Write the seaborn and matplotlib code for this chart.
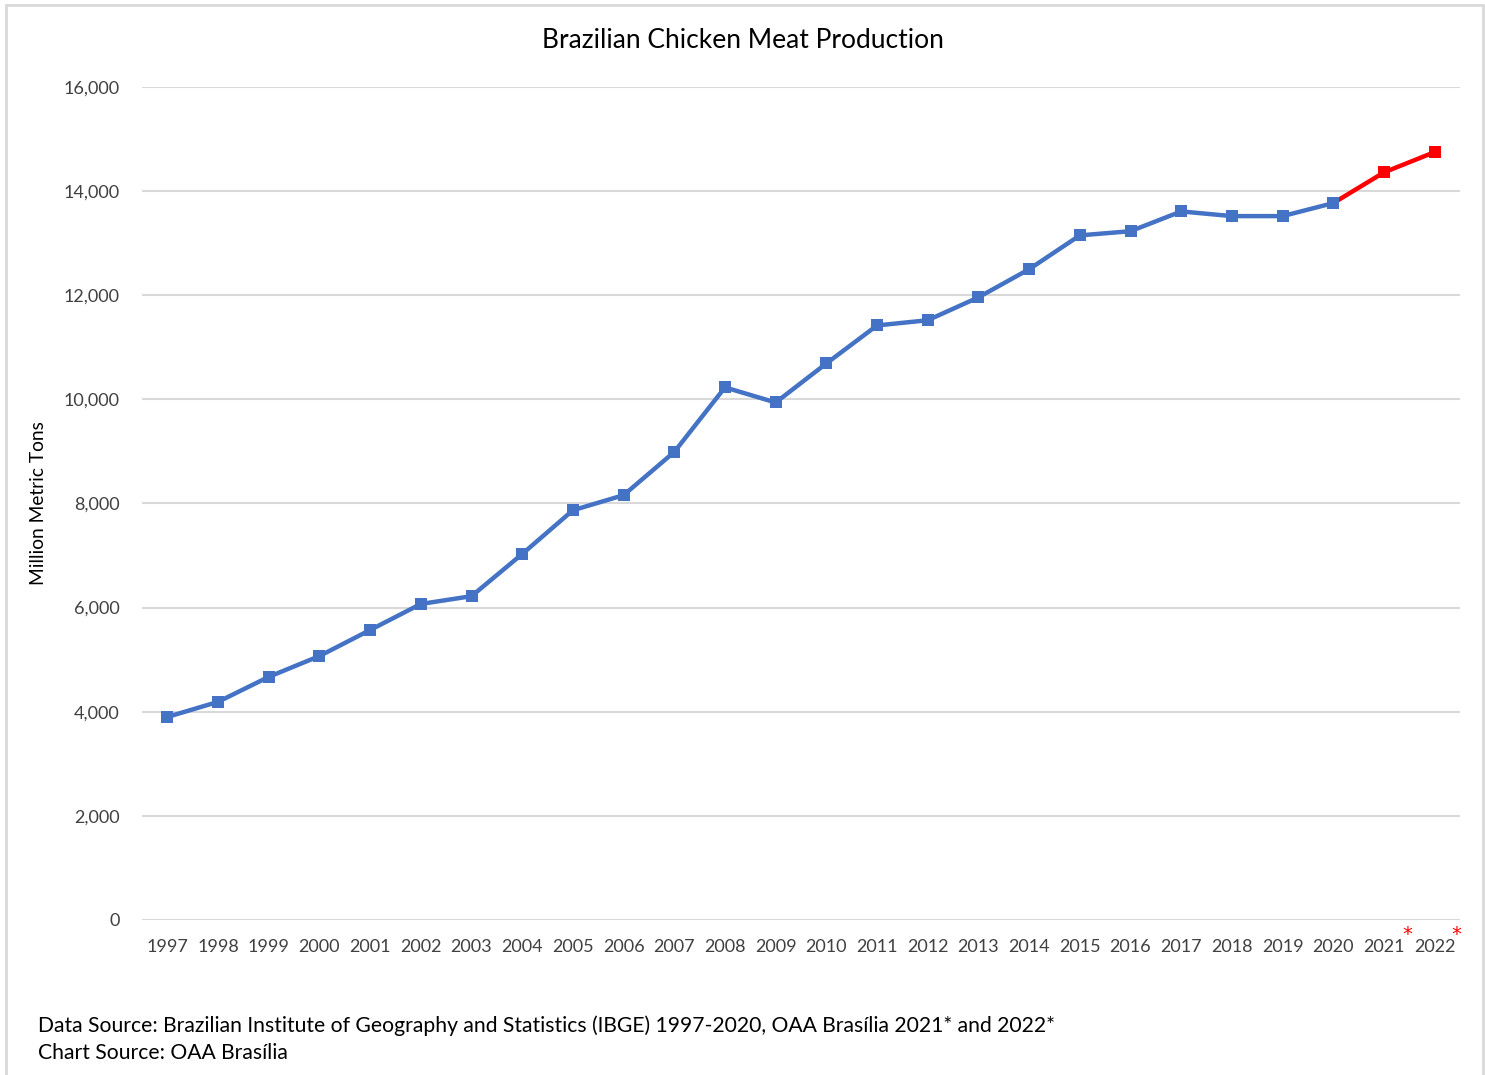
import pandas as pd
import matplotlib.pyplot as plt
import matplotlib.transforms as mtransforms
from matplotlib.patches import Rectangle
import seaborn as sns

# Data (thousand tons)
years = [str(y) for y in range(1997, 2023)]
production = [3900, 4190, 4670, 5070, 5570, 6070, 6220, 7030, 7870, 8160,
              8990, 10230, 9940, 10690, 11420, 11520, 11960, 12500, 13150,
              13230, 13610, 13520, 13520, 13770, 14360, 14750]
n_actual = 24  # 1997-2020 are IBGE actuals, 2021-2022 are forecasts

sns.set_theme(style='white')
plt.rcParams['font.family'] = ['Lato', 'DejaVu Sans']

df = pd.DataFrame({'x': range(len(years)), 'year': years, 'value': production})
actual = df.iloc[:n_actual]
forecast = df.iloc[n_actual - 1:]

fig = plt.figure(figsize=(14.85, 10.75), dpi=100)
ax = fig.add_axes([142 / 1485, 1 - 920 / 1075, (1460 - 142) / 1485, (920 - 87) / 1075])

blue = '#4472C4'
red = '#FF0000'

sns.lineplot(data=forecast, x='x', y='value', color=red, linewidth=3.2,
             marker='s', markersize=8, markeredgewidth=0, markevery=[1, 2],
             ax=ax, zorder=3)
sns.lineplot(data=actual, x='x', y='value', color=blue, linewidth=3.2,
             marker='s', markersize=8, markeredgewidth=0, ax=ax, zorder=4)

ax.set_xlim(-0.5, len(years) - 0.5)
ax.set_ylim(0, 16000)
ax.set_yticks(range(0, 16001, 2000))
ax.set_yticklabels([f'{v:,}' for v in range(0, 16001, 2000)], fontsize=13, color='#404040')
ax.set_xticks(df['x'])
ax.set_xticklabels(years, fontsize=13, color='#404040')
ax.tick_params(axis='both', length=0)
ax.tick_params(axis='x', pad=14)
ax.tick_params(axis='y', pad=16)
ax.grid(axis='y', color='#D9D9D9', linewidth=1.5)
ax.grid(axis='x', visible=False)
for s in ax.spines.values():
    s.set_visible(False)
ax.set_xlabel('')
ax.set_ylabel('Million Metric Tons', fontsize=13.8, color='black', labelpad=12)

# red asterisks on forecast years
trans = mtransforms.blended_transform_factory(ax.transData, ax.transAxes)
for xi, dx in [(24, 0.47), (25, 0.42)]:
    ax.text(xi + dx, -0.006, '*', color=red, fontsize=14, family='DejaVu Sans',
            ha='center', va='top', transform=trans)

fig.text(0.5, 1 - 41 / 1075, 'Brazilian Chicken Meat Production', ha='center', va='center',
         fontsize=19, color='black')
fig.text(38 / 1485, 1 - 1026 / 1075,
         'Data Source: Brazilian Institute of Geography and Statistics (IBGE) 1997-2020, OAA Brasília 2021* and 2022*',
         ha='left', va='center', fontsize=15.2, color='black')
fig.text(38 / 1485, 1 - 1053 / 1075, 'Chart Source: OAA Brasília',
         ha='left', va='center', fontsize=15.2, color='black')

# light frame around chart area
fig.patches.append(Rectangle((6 / 1485, -0.05), (1483 - 6) / 1485, 1.05 - 5 / 1075,
                             transform=fig.transFigure, fill=False,
                             edgecolor='#D9D9D9', linewidth=2))

fig.savefig('out.png', dpi=100)
